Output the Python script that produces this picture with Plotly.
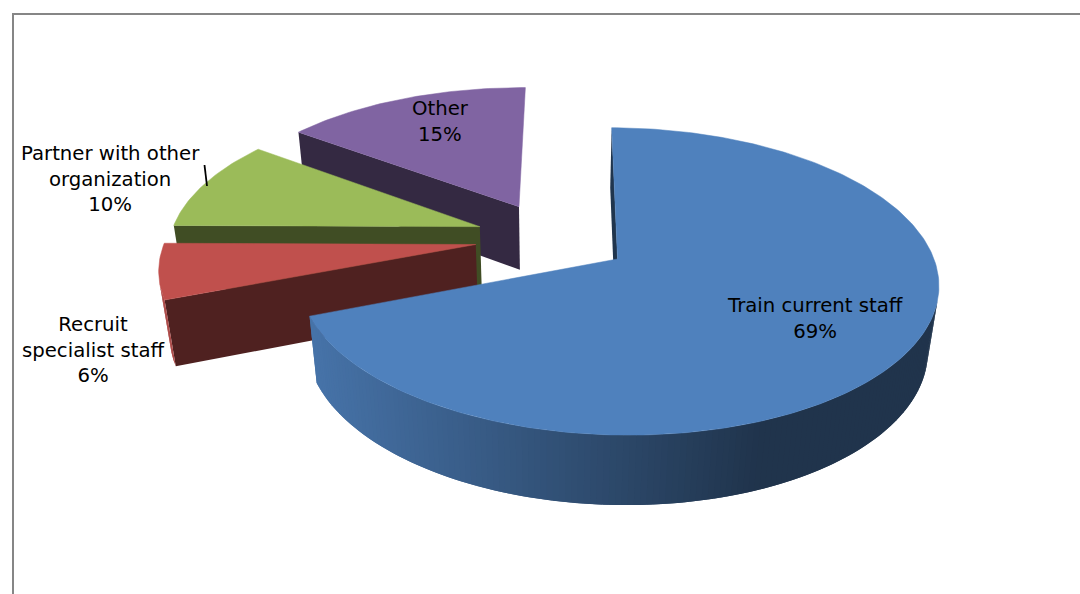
import math
import plotly.graph_objects as go

# Chart content
categories = ["Train current staff", "Recruit specialist staff", "Partner with other organization", "Other"]
values = [69, 6, 10, 15]
label_text = ["Train current staff", "Recruit<br>specialist staff", "Partner with other<br>organization", "Other"]
label_x = [815, 93, 110, 440]
label_y = [318, 350, 179, 121]
top_colors = [(79, 129, 189), (192, 80, 77), (155, 187, 89), (128, 100, 162)]

# Camera and pie geometry, in screen pixels
CX, CY = 552.5, 238.0
SCALE_X, SCALE_Y = 310.0, 144.4
TILT = 0.143
THICK, THICK_PERSP = 66.0, 0.028
EXPLODE = 0.25
ROTATION = 0.5
FONT = "DejaVu Sans"


def project(x, y, z=0.0):
    w = 1 - TILT * y + THICK_PERSP * z
    return CX + SCALE_X * x / w, CY + (SCALE_Y * y + THICK * z) / w


def ring_point(mx, my, deg):
    t = math.radians(deg)
    return mx + math.sin(t), my - math.cos(t)


def shade(rgb, f):
    return "rgb(%d,%d,%d)" % tuple(round(c * f) for c in rgb)


def rim_factor(px):
    t = min(1.0, max(0.0, (px - 315) / (760 - 315)))
    return 0.89 + (0.40 - 0.89) * t


def signed_area(pts):
    return sum(a[0] * b[1] - b[0] * a[1] for a, b in zip(pts, pts[1:] + pts[:1])) / 2


def polygon(pts, color, line=0.0):
    xs = [p[0] for p in pts] + [pts[0][0]]
    ys = [p[1] for p in pts] + [pts[0][1]]
    return go.Scatter(x=xs, y=ys, mode="lines", fill="toself", fillcolor=color,
                      line=dict(color=color, width=line), hoverinfo="skip", showlegend=False)


def slice_traces(start, span, rgb, closing_face=True):
    mid = math.radians(start + span / 2)
    mx, my = EXPLODE * math.sin(mid), -EXPLODE * math.cos(mid)
    steps = max(2, int(span))
    angles = [start + span * i / steps for i in range(steps + 1)]
    arc = [ring_point(mx, my, a) for a in angles]

    outline = [project(mx, my)] + [project(*p) for p in arc]
    orient = signed_area(outline)
    traces = []

    def wall(a, b, color_for, reach=None):
        # "reach" extends the quad under its neighbour so no seams show between rim strips
        end = reach if reach is not None else b
        quad = [project(*a), project(*b), project(*b, 1.0), project(*a, 1.0)]
        if signed_area(quad) * orient < 0:
            drawn = [project(*a), project(*end), project(*end, 1.0), project(*a, 1.0)]
            traces.append(polygon(drawn, color_for(quad)))

    # Flat radial cut faces
    dark = lambda q: shade(rgb, 0.41)
    wall((mx, my), arc[0], dark)
    if closing_face:
        wall(arc[-1], (mx, my), dark)
    # Outer rim, lit from the left
    for i in range(len(arc) - 1):
        reach = arc[min(i + 2, len(arc) - 1)]
        wall(arc[i], arc[i + 1], lambda q: shade(rgb, rim_factor(sum(p[0] for p in q) / 4)), reach)
    traces.append(polygon(outline, shade(rgb, 1.0), line=0.5))
    return traces


total = sum(values)
starts, running = [], ROTATION
for v in values:
    starts.append(running)
    running += v / total * 360

fig = go.Figure()

# Back-to-front: the last slice sits furthest away, the first overlaps the others
for i in reversed(range(len(values))):
    last = i == len(values) - 1
    for tr in slice_traces(starts[i], values[i] / total * 360, top_colors[i], closing_face=not last):
        fig.add_trace(tr)

# Chart frame (left and top edges)
fig.add_shape(type="line", x0=13, x1=13, y0=14, y1=594, line=dict(color="#868686", width=2))
fig.add_shape(type="line", x0=12, x1=1080, y0=14, y1=14, line=dict(color="#868686", width=2))
# Leader line for the partner label
fig.add_shape(type="line", x0=204.5, x1=207, y0=165, y1=186, line=dict(color="black", width=1.8))

for name, v, lx, ly in zip(label_text, values, label_x, label_y):
    fig.add_annotation(x=lx, y=ly, text=f"{name}<br>{v}%", showarrow=False,
                       font=dict(family=FONT, size=19.7, color="black"), align="center",
                       xanchor="center", yanchor="middle")

fig.update_layout(
    width=1080, height=594, margin=dict(l=0, r=0, t=0, b=0),
    paper_bgcolor="white", plot_bgcolor="white", showlegend=False,
    xaxis=dict(range=[0, 1080], visible=False, fixedrange=True),
    yaxis=dict(range=[594, 0], visible=False, fixedrange=True),
)
fig.write_html("out.html", config={"displayModeBar": False})
